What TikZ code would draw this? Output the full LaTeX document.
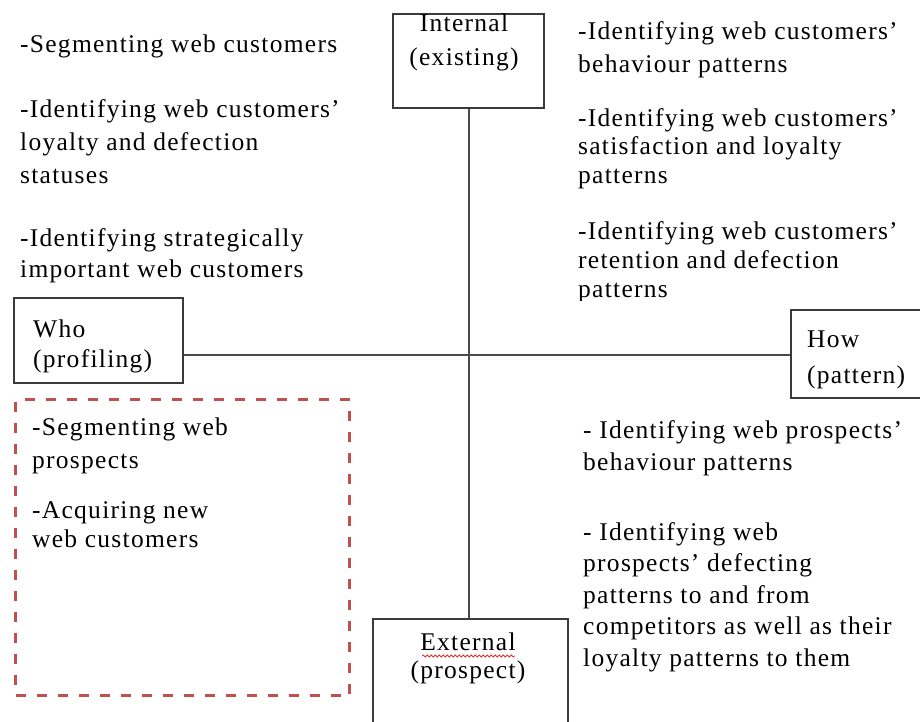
\documentclass[tikz,border=0pt]{standalone}
\usepackage{fontspec}
\setmainfont{Liberation Serif}[LetterSpace=5]
\usetikzlibrary{decorations.pathmorphing}
\definecolor{frameC}{HTML}{3A3A3A}
\definecolor{axisC}{HTML}{4A4A4A}
\definecolor{dashC}{HTML}{C0504D}
\definecolor{spellC}{HTML}{E03030}
\begin{document}
% note: for multi-line nodes the base anchor is the baseline of the LAST line
\begin{tikzpicture}[x=1pt,y=-1pt,
  txt/.style={anchor=base west, inner sep=0pt, align=left, font=\fontsize{25.5}{#1}\selectfont},
  txt/.default=32,
  ctxt/.style={anchor=base, inner sep=0pt, align=center, font=\fontsize{25.5}{#1}\selectfont},
  ctxt/.default=32,
  frame/.style={draw=frameC, line width=2pt, fill=none, inner sep=0pt, anchor=north west},
  axis/.style={draw=axisC, line width=2pt},
  dashbox/.style={draw=dashC, line width=3pt, dash pattern=on 10pt off 11pt, inner sep=0pt, anchor=north west}]
\useasboundingbox (0,0) rectangle (920,721);
\clip (0,0) rectangle (920,721);

% boxes
\node[frame, minimum width=151pt, minimum height=94pt] (intbox) at (392,13) {};
\node[frame, minimum width=169pt, minimum height=85pt] (whobox) at (13,297) {};
\node[frame, minimum width=145pt, minimum height=88pt] (howbox) at (790,309) {};
\node[frame, minimum width=195pt, minimum height=115pt] (extbox) at (372,618) {};
\node[dashbox, minimum width=334pt, minimum height=296pt] (dbox) at (14,398) {};

% axes
\draw[axis] (intbox.south) -- (intbox.south |- extbox.north);
\draw[axis] ([yshift=-14pt]whobox.east) coordinate (hl) -- (hl -| howbox.west);

% box labels
\node[ctxt=34] (intlabel) at (464,65) {Internal\\(existing)};
\node[txt=30] (wholabel) at (33,367) {Who\\(profiling)};
\node[txt=36] (howlabel) at (807,383) {How\\(pattern)};
\node[ctxt=28] (extlabel) at (468,678) {External\\(prospect)};
\draw[spellC, line width=0.8pt, decorate, decoration={snake, amplitude=1pt, segment length=4pt}]
  ([xshift=-46pt,yshift=22pt]extlabel.base) -- ([xshift=47pt,yshift=22pt]extlabel.base);

% left top texts
\node[txt] (l1) at (20,52) {-Segmenting web customers};
\node[txt=33] (l2) at (20,183) {-Identifying web customers’\\loyalty and defection\\statuses};
\node[txt=31] (l3) at (20,277) {-Identifying strategically\\important web customers};

% right top texts
\node[txt=33] (r1) at (578,72) {-Identifying web customers’\\behaviour patterns};
\node[txt=28.5] (r2) at (578,183) {-Identifying web customers’\\satisfaction and loyalty\\patterns};
\begin{scope}
\clip (560,200) rectangle (920,300);
\node[txt=29] (r3) at (578,297) {-Identifying web customers’\\retention and defection\\patterns};
\end{scope}

% right bottom texts
\node[txt=32] (r4) at (583,470) {- Identifying web prospects’\\behaviour patterns};
\node[txt=31.5] (r5) at (583,666) {- Identifying web\\prospects’ defecting\\patterns to and from\\competitors as well as their\\loyalty patterns to them};

% dashed box texts
\node[txt=33] (d1) at (32,468) {-Segmenting web\\prospects};
\node[txt=29] (d2) at (32,547) {-Acquiring new\\web customers};
\end{tikzpicture}
\end{document}
